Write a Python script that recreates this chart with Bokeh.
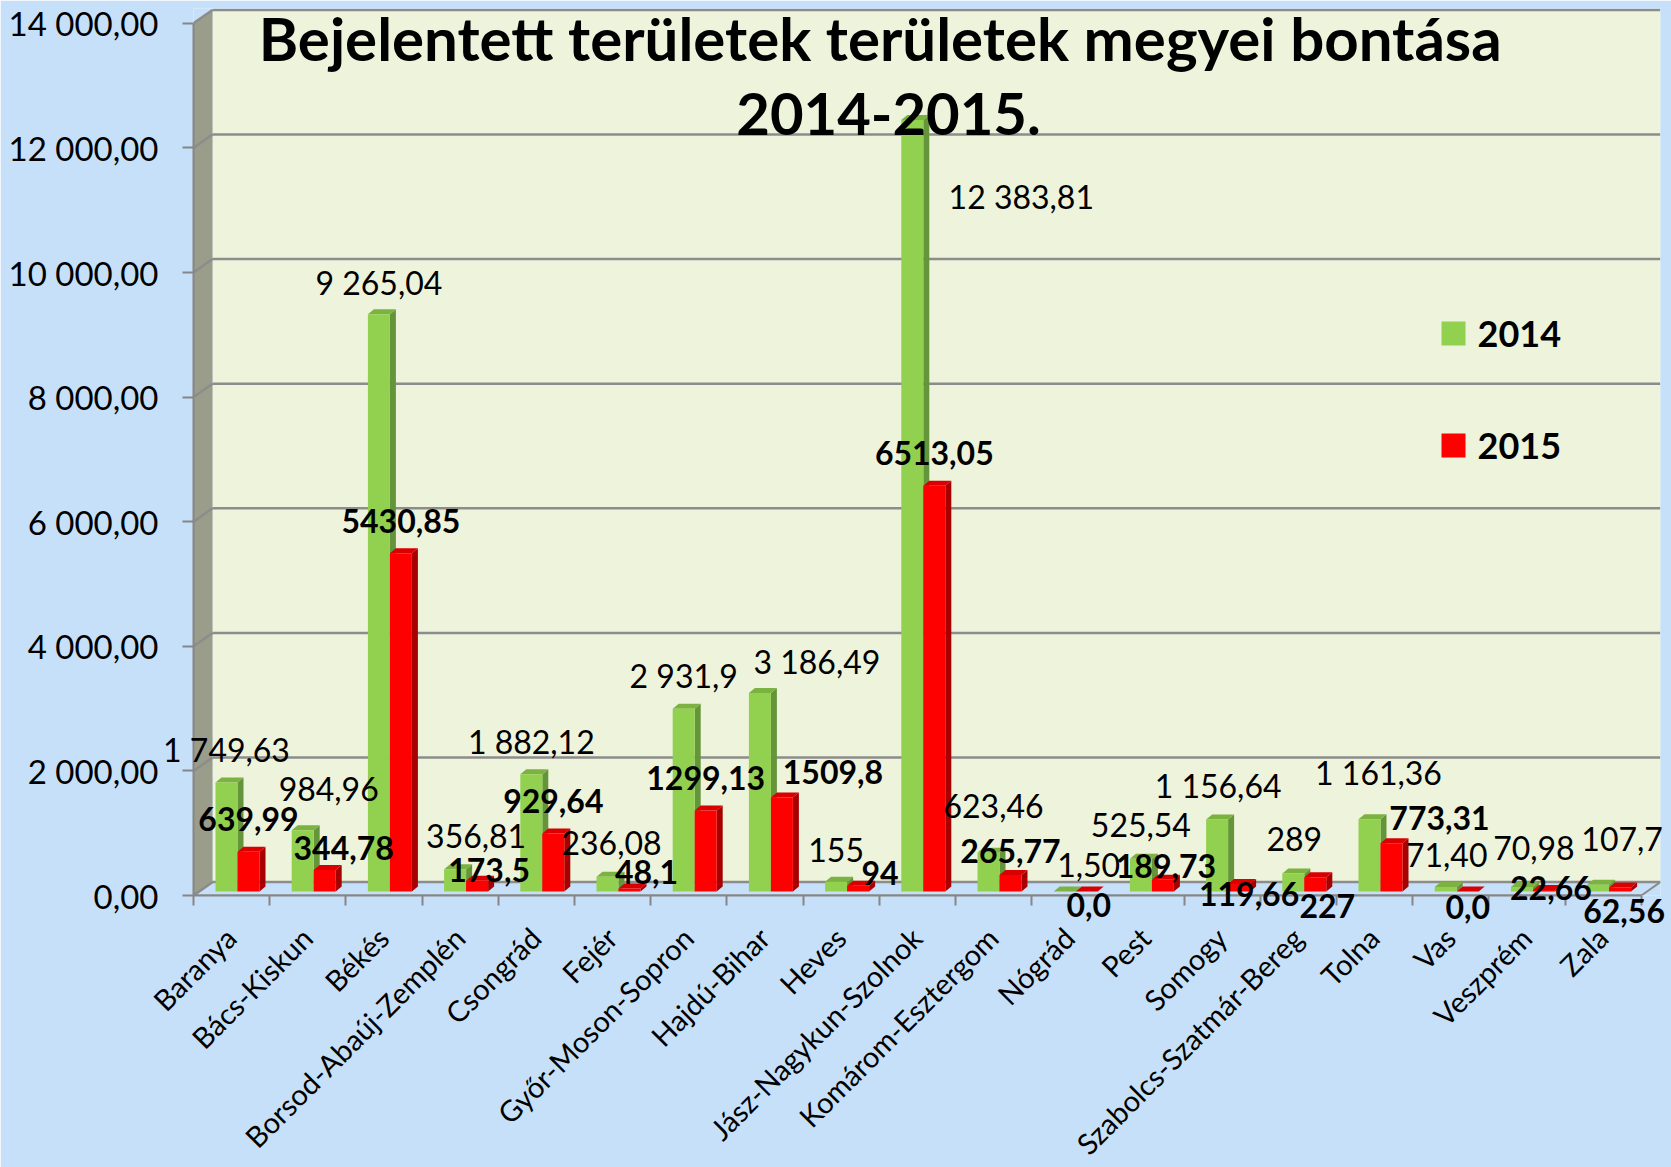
import math
from bokeh.plotting import figure
from bokeh.models import FixedTicker, Range1d
from bokeh.core.properties import value
from bokeh.embed import file_html
from bokeh.resources import INLINE

# ---------------- data ----------------
counties = ["Baranya", "Bács-Kiskun", "Békés", "Borsod-Abaúj-Zemplén", "Csongrád", "Fejér",
            "Győr-Moson-Sopron", "Hajdú-Bihar", "Heves", "Jász-Nagykun-Szolnok",
            "Komárom-Esztergom", "Nógrád", "Pest", "Somogy", "Szabolcs-Szatmár-Bereg",
            "Tolna", "Vas", "Veszprém", "Zala"]
area_2014 = [1749.63, 984.96, 9265.04, 356.81, 1882.12, 236.08, 2931.9, 3186.49, 155.0,
             12383.81, 623.46, 1.50, 525.54, 1156.64, 289.0, 1161.36, 71.40, 70.98, 107.7]
area_2015 = [639.99, 344.78, 5430.85, 173.5, 929.64, 48.1, 1299.13, 1509.8, 94.0,
             6513.05, 265.77, 0.0, 189.73, 119.66, 227.0, 773.31, 0.0, 22.66, 62.56]
labels_2014 = ["1 749,63", "984,96", "9 265,04", "356,81", "1 882,12", "236,08", "2 931,9",
               "3 186,49", "155", "12 383,81", "623,46", "1,50", "525,54", "1 156,64", "289",
               "1 161,36", "71,40", "70,98", "107,7"]
labels_2015 = ["639,99", "344,78", "5430,85", "173,5", "929,64", "48,1", "1299,13", "1509,8",
               "94", "6513,05", "265,77", "0,0", "189,73", "119,66", "227", "773,31", "0,0",
               "22,66", "62,56"]
series_names = ["2014", "2015"]
y_ticks = [0, 2000, 4000, 6000, 8000, 10000, 12000, 14000]
y_tick_labels = ["0,00", "2 000,00", "4 000,00", "6 000,00", "8 000,00", "10 000,00",
                 "12 000,00", "14 000,00"]
title_lines = ["Bejelentett területek  területek megyei bontása", "2014-2015."]

# ---------------- layout / style (pixels) ----------------
# data-label offsets (screen px, relative to the bar-top centre)
off_2014 = [(0, -30), (26, -38), (0, -29), (21, -30), (0, -30), (4, -31), (0, -30), (57, -28),
            (0, -29), (109, 80), (5, -44), (24, -23), (0, -31), (1, -31), (1, -31), (9, -44),
            (1, -29), (12, -36), (24, -43)]
off_2015 = [(0, -30), (19, -19), (0, -29), (12, -8), (0, -30), (17, -14), (0, -30), (51, -22),
            (22, -10), (0, -30), (0, -21), (2, 16), (3, -11), (10, 13), (12, 32), (48, -22),
            (0, 18), (7, 1), (4, 26)]

BG = "#C6E0F9"
WALL = "#EEF3DC"
SIDEWALL = "#9A9D8A"
GRID = "#8C8C8C"
AXIS = "#868686"
G_FRONT, G_SIDE, G_TOP = "#92D050", "#65953A", "#7BB240"
R_FRONT, R_SIDE, R_TOP = "#FF0000", "#A80000", "#D80000"
FONT = value("Lato")

W, H = 1671, 1167
CAT_PX = 76.2                 # px per category
Y_PX = 124.6 / 2000.0         # px per unit
AX_X, AX_Y = 193, 895         # front axis corner (screen px)
FRAME_TOP = 8
FRAME_W = 1467
FRAME_H = AX_Y - FRAME_TOP
N = len(counties)

def ux(px):
    return px / CAT_PX

def uy(px):
    return px / Y_PX

DX, DY = ux(19), uy(13.4)        # depth of the chart box
SX, SY = ux(6), uy(5)            # depth of a bar
G0, G1, R0, R1 = ux(22), ux(44), ux(44), ux(66)
BOT = uy(4)
TOPL = uy(7)

def dx_(X):
    return (X - AX_X) / CAT_PX

def dy_(Y):
    return (AX_Y - Y) / Y_PX

p = figure(width=W, height=H, output_backend="svg", toolbar_location=None,
           x_range=Range1d(0, FRAME_W / CAT_PX), y_range=Range1d(0, FRAME_H / Y_PX),
           min_border_left=AX_X, min_border_right=W - AX_X - FRAME_W,
           min_border_top=FRAME_TOP, min_border_bottom=H - AX_Y)
p.background_fill_color = BG
p.border_fill_color = BG
p.outline_line_color = None
p.xgrid.visible = False
p.ygrid.visible = False

ymax = y_ticks[-1]
# back wall
p.quad(left=[DX], right=[N + DX], bottom=[DY], top=[ymax + DY], fill_color=WALL, line_color=None)
# side wall
p.patch([0, DX, DX, 0], [0, DY, ymax + DY, ymax], fill_color=SIDEWALL, line_color=None)
# floor
p.patch([0, N, N + DX, DX], [0, 0, DY, DY], fill_color=BG, line_color=GRID, line_width=2)
# gridlines
gx0, gy0, gx1, gy1 = [], [], [], []
for g in y_ticks:
    gx0 += [DX, 0]; gy0 += [g + DY, g]; gx1 += [N + DX, DX]; gy1 += [g + DY, g + DY]
p.segment(gx0, gy0, gx1, gy1, line_color=GRID, line_width=2.5)

# bars (3-D look: side face, top face, front face)
def bar_geom(vals, a, b):
    L = [i + a for i in range(N)]
    R = [i + b for i in range(N)]
    T = [v + BOT for v in vals]
    B = [BOT] * N
    side_x = [[r, r + SX, r + SX, r] for r in R]
    side_y = [[BOT, BOT + SY, t + SY, t] for t in T]
    top_x = [[l, l + SX, r + SX, r] for l, r in zip(L, R)]
    top_y = [[t, t + SY, t + SY, t] for t in T]
    return L, R, B, T, side_x, side_y, top_x, top_y

for vals, a, b, cf, cs, ct in [(area_2014, G0, G1, G_FRONT, G_SIDE, G_TOP),
                               (area_2015, R0, R1, R_FRONT, R_SIDE, R_TOP)]:
    L, R, B, T, sx, sy, tx, ty = bar_geom(vals, a, b)
    p.patches(sx, sy, fill_color=cs, line_color=None)
    p.patches(tx, ty, fill_color=ct, line_color=None)
    p.quad(left=L, right=R, bottom=B, top=T, fill_color=cf, line_color=None)

# data labels
for vals, labs, offs, a, b, style in [(area_2014, labels_2014, off_2014, G0, G1, "normal"),
                                      (area_2015, labels_2015, off_2015, R0, R1, "bold")]:
    xs = [i + (a + b) / 2 for i in range(N)]
    ys = [v + TOPL for v in vals]
    p.text(xs, ys, text=labs, x_offset=[o[0] for o in offs], y_offset=[o[1] for o in offs],
           text_font=FONT, text_font_size="32px", text_font_style=style, text_color="black",
           text_align="center", text_baseline="middle", level="overlay")

# category labels (rotated 45°, ending under each category)
centers = [i + 0.5 for i in range(N)]
p.text([c - ux(1) for c in centers], [0] * N, text=counties, angle=math.pi / 4,
       y_offset=37, text_font=FONT, text_font_size="29px", text_color="black",
       text_align="right", text_baseline="middle", level="overlay")

# title
p.text([dx_(887)], [dy_(37)], text=[title_lines[0]], text_font=FONT, text_font_size="60px",
       text_font_style="bold", text_align="center", text_baseline="alphabetic", level="overlay")
p.text([dx_(888)], [dy_(113)], text=[title_lines[1]], text_font=FONT, text_font_size="58px",
       text_font_style="bold", text_align="center", text_baseline="alphabetic", level="overlay")

# legend
p.scatter([dx_(1453), dx_(1453)], [dy_(333), dy_(445)], marker="square", size=24,
          fill_color=[G_FRONT, R_FRONT], line_color=None, level="overlay")
p.text([dx_(1477), dx_(1477)], [dy_(333), dy_(445)], text=series_names, text_font=FONT,
       text_font_size="36px", text_font_style="bold", text_align="left",
       text_baseline="alphabetic", level="overlay")

# axes
yax = p.yaxis[0]
yax.ticker = FixedTicker(ticks=y_ticks, minor_ticks=[])
yax.major_label_overrides = {t: s for t, s in zip(y_ticks, y_tick_labels)}
yax.bounds = (0, ymax)
yax.axis_line_color = AXIS
yax.axis_line_width = 2
yax.major_tick_line_color = AXIS
yax.major_tick_line_width = 2
yax.major_tick_out = 11
yax.major_tick_in = 0
yax.major_label_standoff = 24
yax.major_label_text_font = "Lato"
yax.major_label_text_font_size = "33px"
yax.major_label_text_color = "black"

xax = p.xaxis[0]
xax.ticker = FixedTicker(ticks=[], minor_ticks=list(range(N + 1)))
xax.bounds = (0, N)
xax.axis_line_color = AXIS
xax.axis_line_width = 2
xax.major_tick_out = 0
xax.major_tick_in = 0
xax.minor_tick_out = 10
xax.minor_tick_in = 0
xax.minor_tick_line_color = AXIS
xax.minor_tick_line_width = 2
xax.major_label_standoff = 0

open("out.html", "w").write(file_html(p, INLINE))
